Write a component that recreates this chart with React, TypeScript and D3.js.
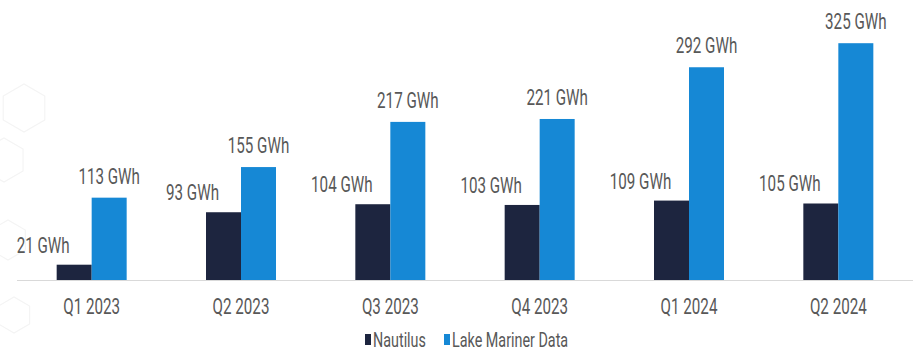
import React from "react";
import * as d3 from "d3";

const categories = ["Q1 2023", "Q2 2023", "Q3 2023", "Q4 2023", "Q1 2024", "Q2 2024"];
const seriesNames = ["Nautilus", "Lake Mariner Data"];
const nautilus = [21, 93, 104, 103, 109, 105];
const lakeMariner = [113, 155, 217, 221, 292, 325];
const colors = ["#1d253f", "#1688d5"];

const W = 917;
const H = 354;
const baseY = 280;
const textColor = "#585858";

function SText({ x, y, size, sx, anchor, children }: { x: number; y: number; size: number; sx: number; anchor: string; children: React.ReactNode }) {
  return (
    <text
      transform={`translate(${x},${y}) scale(${sx},1)`}
      fontFamily="Roboto, 'Liberation Sans', sans-serif"
      fontSize={size}
      fill={textColor}
      textAnchor={anchor as any}
    >
      {children}
    </text>
  );
}

function hexPath(cx: number, cy: number, r: number) {
  const pts = d3.range(6).map((i) => {
    const a = (Math.PI / 3) * i + Math.PI / 6;
    return [cx + r * Math.cos(a), cy + r * Math.sin(a)];
  });
  return "M" + pts.map((p) => p.join(",")).join("L") + "Z";
}

export default function App() {
  const x0 = d3.scaleBand<string>().domain(categories).range([17, 913]).padding(0);
  const x1 = d3.scaleBand<string>().domain(seriesNames).range([0, 70]).padding(0);
  const y = d3.scaleLinear().domain([0, 350]).range([baseY, baseY - 350 * 0.7286]);
  const data = [nautilus, lakeMariner];

  return (
    <svg width={W} height={H} style={{ position: "absolute", left: 0, top: 0, background: "#fff" }}>
      <g stroke="#f4f4f4" fill="none" strokeWidth={1.2}>
        <path d={hexPath(24, 108, 24)} />
        <path d={hexPath(4, 160, 22)} />
        <path d={hexPath(8, 240, 20)} />
        <path d={hexPath(14, 315, 18)} />
      </g>
      {categories.map((c, i) => {
        const cx = (x0(c) as number) + x0.bandwidth() / 2;
        const gx = cx - 35;
        return (
          <g key={c}>
            {seriesNames.map((s, j) => {
              const v = data[j][i];
              const bx = gx + (x1(s) as number);
              return (
                <rect key={s} x={bx} y={y(v)} width={x1.bandwidth()} height={baseY - y(v)} fill={colors[j]} />
              );
            })}
            <SText x={gx + 17.5 - 31} y={y(nautilus[i]) - 12} size={22} sx={0.69} anchor="middle">
              {nautilus[i]} GWh
            </SText>
            <SText x={gx + 52.5} y={y(lakeMariner[i]) - 14} size={22} sx={0.69} anchor="middle">
              {lakeMariner[i]} GWh
            </SText>
            <SText x={cx} y={314} size={22} sx={0.69} anchor="middle">
              {c}
            </SText>
          </g>
        );
      })}
      <line x1={17} x2={913} y1={baseY + 0.5} y2={baseY + 0.5} stroke="#d9d9d9" strokeWidth={1} />
      <g>
        <rect x={365} y={334} width={6} height={11} fill={colors[0]} />
        <SText x={373} y={347} size={20.5} sx={0.7} anchor="start">Nautilus</SText>
        <rect x={444} y={334} width={6} height={11} fill={colors[1]} />
        <SText x={452} y={347} size={20.5} sx={0.7} anchor="start">Lake Mariner Data</SText>
      </g>
    </svg>
  );
}
